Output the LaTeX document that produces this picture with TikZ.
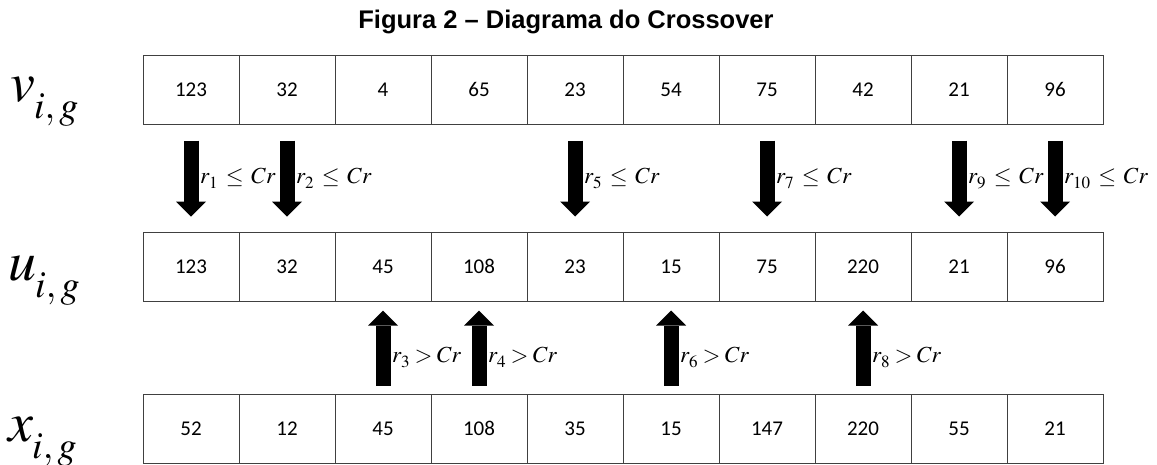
\documentclass[tikz,border=0pt]{standalone}
\usepackage{mathptmx}
\usepackage{fontspec}
\newfontfamily\cellfont{Carlito}
\newfontfamily\titlefont{Liberation Sans}
\usetikzlibrary{arrows.meta}
\newcommand{\rowsym}[1]{\fontsize{56}{60}\selectfont$#1$\kern-1pt\raisebox{-17pt}{\fontsize{38}{40}\selectfont$i,g$}}
\newcommand{\rlab}[3]{$r_{\raisebox{-2pt}{$\scriptstyle#1$}}\mathrel{\mkern#3mu#2\mkern#3mu}Cr$}
\tikzset{
  cell/.style={draw=black!75, line width=1pt, minimum width=96pt, minimum height=69pt, inner sep=0pt, text height=13pt, text depth=0pt, font=\cellfont\fontsize{21}{24}\selectfont},
  blk/.style={line width=15pt, -{Triangle[width=30pt,length=15pt,line width=0pt]}},
  downarrow/.style={blk, shorten <=16pt, shorten >=15pt},
  uparrow/.style={blk, shorten <=8pt, shorten >=9pt},
  lbl/.style={anchor=base west, inner sep=0pt, font=\fontsize{23}{26}\selectfont},
  rowlbl/.style={anchor=base west, inner sep=0pt}
}
\begin{document}
\begin{tikzpicture}[x=1pt,y=-1pt]
\useasboundingbox (0,0) rectangle (1157,464);
\node[anchor=base, inner sep=0pt, font=\titlefont\bfseries\fontsize{25.5}{28}\selectfont] (title) at (566,28) {Figura 2 – Diagrama do Crossover};
\node[rowlbl] (lv) at (10,101) {\rowsym{v}};
\node[rowlbl] (lu) at (8,280) {\rowsym{u}};
\node[rowlbl] (lx) at (8,441) {\rowsym{x}};
\foreach \val [count=\i] in {123,32,4,65,23,54,75,42,21,96}
  \node[cell] (v\i) at ({143+96*(\i-0.5)},89.5) {\val};
\foreach \val [count=\i] in {123,32,45,108,23,15,75,220,21,96}
  \node[cell] (u\i) at ({143+96*(\i-0.5)},266.5) {\val};
\foreach \val [count=\i] in {52,12,45,108,35,15,147,220,55,21}
  \node[cell] (x\i) at ({143+96*(\i-0.5)},428.5) {\val};
\foreach \i in {1,2,5,7,9,10}{
  \draw[downarrow] (v\i) -- (u\i);
  \node[lbl] (ld\i) at ({143+96*(\i-0.5)+9},183) {\rlab{\i}{\le}{2}};
}
\foreach \i in {3,4,6,8}{
  \draw[uparrow] (x\i) -- (u\i);
  \node[lbl] (lu\i) at ({143+96*(\i-0.5)+9},362) {\rlab{\i}{>}{-0.5}};
}
\end{tikzpicture}
\end{document}
